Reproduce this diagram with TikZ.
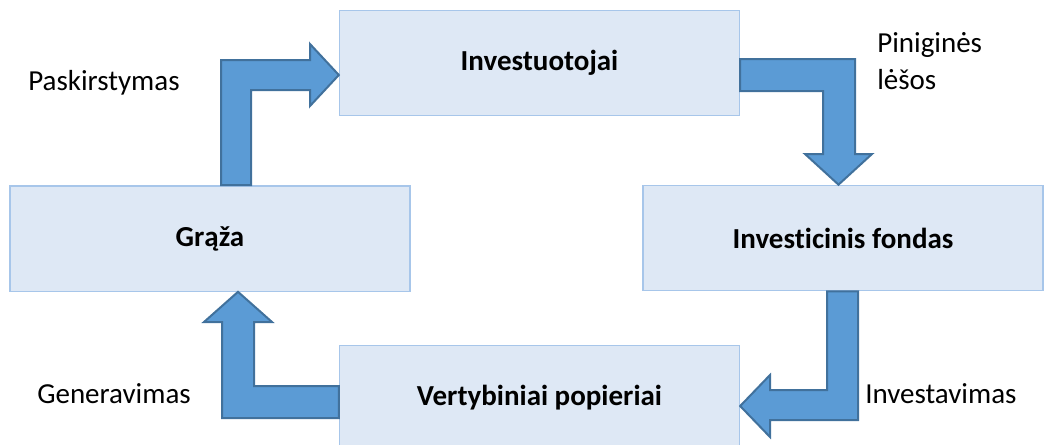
\documentclass[tikz,border=0pt]{standalone}
\usepackage{fontspec}
\setmainfont{Carlito}[Ligatures={NoCommon}]
\usetikzlibrary{positioning}

\definecolor{boxfill}{HTML}{DEE8F5}
\definecolor{boxline}{HTML}{A7C6EA}
\definecolor{arrfill}{HTML}{5B9BD5}
\definecolor{arrline}{HTML}{41719C}

\tikzset{
  stage/.style={draw=boxline, fill=boxfill, line width=1pt, rectangle,
    minimum width=300pt, minimum height=79pt, inner sep=0pt,
    font=\fontsize{21.75}{26}\selectfont\bfseries},
  blockarrow/.style={draw=arrline, fill=arrfill, line width=1.5pt, line join=miter},
  lbl/.style={inner sep=0pt, font=\fontsize{21.75}{27.75}\selectfont}
}

\begin{document}
\begin{tikzpicture}[x=0.75pt, y=-0.75pt]
  \useasboundingbox (0,0) rectangle (1047,444);

  \node[stage] (investuotojai) at (539.5,63) {Investuotojai};
  \node[stage] (graza) at (210,238.5) {Grąža};
  \node[stage] (fondas) at (843,238) {Investicinis fondas};
  \node[stage] (vertybiniai) at (539.5,398) {Vertybiniai popieriai};

  % bent block arrows between the boxes
  \draw[blockarrow] (221,0 |- graza.north) -- (221,60) -- (310,60) -- (310,44)
    -- (investuotojai.west |- 0,75) -- (310,106) -- (310,90) -- (251,90)
    -- (251,0 |- graza.north) -- cycle;
  \draw[blockarrow] (investuotojai.east |- 0,59) -- (855,59) -- (855,154) -- (872,154)
    -- (838.5,0 |- fondas.north) -- (805,154) -- (823,154) -- (823,91)
    -- (investuotojai.east |- 0,91) -- cycle;
  \draw[blockarrow] (827,0 |- fondas.south) -- (858,0 |- fondas.south) -- (858,420)
    -- (770,420) -- (770,437) -- (vertybiniai.east |- 0,406) -- (770,375)
    -- (770,390) -- (827,390) -- cycle;
  \draw[blockarrow] (vertybiniai.west |- 0,386) -- (vertybiniai.west |- 0,418)
    -- (222,418) -- (222,322) -- (204,322) -- (238,0 |- graza.south)
    -- (272,322) -- (254,322) -- (254,386) -- cycle;

  \node[lbl, anchor=base west] (paskirstymas) at (28,90) {Paskirstymas};
  \node[lbl, anchor=north west, align=left] (lesos) at (877,32) {Piniginės\\lėšos};
  \node[lbl, anchor=base west] (investavimas) at (865,403) {Investavimas};
  \node[lbl, anchor=base west] (generavimas) at (37,403) {Generavimas};
\end{tikzpicture}
\end{document}
